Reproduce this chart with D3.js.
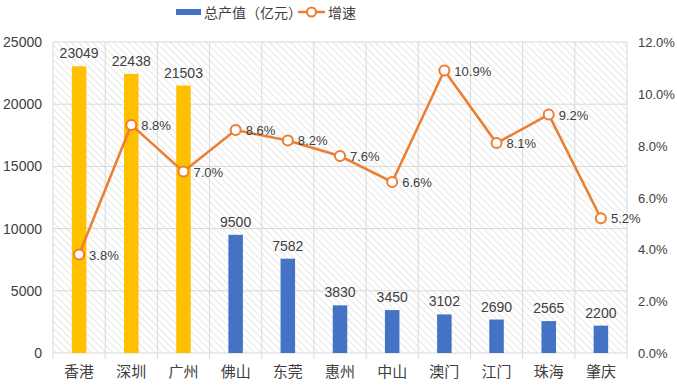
<!DOCTYPE html>
<html><head><meta charset="utf-8">
<script src="https://cdn.jsdelivr.net/npm/d3@7"></script>
<style>body{margin:0;background:#fff;}text{font-family:"Liberation Sans","Noto Sans CJK SC",sans-serif;}</style>
</head><body><svg id="c" width="677" height="386"></svg>
<script>
const categories = ["香港","深圳","广州","佛山","东莞","惠州","中山","澳门","江门","珠海","肇庆"];
const gdpValues = [23049,22438,21503,9500,7582,3830,3450,3102,2690,2565,2200];
const growthValues = [3.8,8.8,7.0,8.6,8.2,7.6,6.6,10.9,8.1,9.2,5.2];
const highlight = [true,true,true,false,false,false,false,false,false,false,false];
const leftTicks = [0,5000,10000,15000,20000,25000];
const rightTicks = [0,2,4,6,8,10,12];

const svg = d3.select("#c");
const m = {l:53, r:627, t:42, b:353};
const defs = svg.append("defs");
const pat = defs.append("pattern").attr("id","hatch").attr("patternUnits","userSpaceOnUse")
  .attr("width",5).attr("height",5).attr("patternTransform","rotate(-45)");
pat.append("rect").attr("width",5).attr("height",5).attr("fill","#fff");
pat.append("line").attr("x1",0).attr("y1",0).attr("x2",0).attr("y2",5).attr("stroke","#d8d8d8").attr("stroke-width",1.2);

const x = d3.scaleBand().domain(categories).range([m.l,m.r]);
const y = d3.scaleLinear().domain([0,25000]).range([m.b,m.t]);
const y2 = d3.scaleLinear().domain([0,12]).range([m.b,m.t]);

svg.append("rect").attr("x",m.l).attr("y",m.t).attr("width",m.r-m.l).attr("height",m.b-m.t).attr("fill","url(#hatch)");
// grid
svg.append("g").selectAll("line").data(leftTicks).join("line")
  .attr("x1",m.l).attr("x2",m.r).attr("y1",d=>y(d)).attr("y2",d=>y(d)).attr("stroke","#d9d9d9").attr("stroke-width",1);
const bounds = categories.map(c=>x(c)).concat([m.r]);
svg.append("g").selectAll("line").data(bounds).join("line")
  .attr("x1",d=>d).attr("x2",d=>d).attr("y1",m.t).attr("y2",m.b+6).attr("stroke","#d9d9d9").attr("stroke-width",1);

// bars
const bw = 14.5;
svg.append("g").selectAll("rect").data(categories).join("rect")
  .attr("x",(d)=>x(d)+x.bandwidth()/2-bw/2).attr("width",bw)
  .attr("y",(d,i)=>y(gdpValues[i])).attr("height",(d,i)=>y(0)-y(gdpValues[i]))
  .attr("fill",(d,i)=>highlight[i]?"#FFC000":"#4472C4");
svg.append("g").selectAll("text").data(categories).join("text")
  .attr("x",d=>x(d)+x.bandwidth()/2).attr("y",(d,i)=>y(gdpValues[i])-8)
  .attr("text-anchor","middle").attr("font-size",14).attr("fill","#404040")
  .text((d,i)=>gdpValues[i]);

// line
const cx = d=>x(d)+x.bandwidth()/2;
svg.append("path").datum(categories).attr("fill","none").attr("stroke","#ED7D31").attr("stroke-width",2.5)
  .attr("d",d3.line().x(d=>cx(d)).y((d,i)=>y2(growthValues[i])));
svg.append("g").selectAll("circle").data(categories).join("circle")
  .attr("cx",cx).attr("cy",(d,i)=>y2(growthValues[i])).attr("r",5)
  .attr("fill","#fff").attr("stroke","#ED7D31").attr("stroke-width",2);
svg.append("g").selectAll("text").data(categories).join("text")
  .attr("x",d=>cx(d)+10).attr("y",(d,i)=>y2(growthValues[i])+5)
  .attr("font-size",13).attr("fill","#404040")
  .text((d,i)=>growthValues[i].toFixed(1)+"%");

// axes
svg.append("g").selectAll("text").data(leftTicks).join("text")
  .attr("x",42).attr("y",d=>y(d)+5).attr("text-anchor","end").attr("font-size",14).attr("fill","#404040").text(d=>d);
svg.append("g").selectAll("text").data(rightTicks).join("text")
  .attr("x",638).attr("y",d=>y2(d)+5).attr("text-anchor","start").attr("font-size",13).attr("fill","#404040").text(d=>d.toFixed(1)+"%");
svg.append("g").selectAll("text").data(categories).join("text")
  .attr("x",d=>cx(d)).attr("y",377).attr("text-anchor","middle").attr("font-size",15).attr("fill","#404040").text(d=>d);

// legend
svg.append("rect").attr("x",176).attr("y",9).attr("width",25).attr("height",6).attr("fill","#4472C4");
svg.append("text").attr("x",204).attr("y",18).attr("font-size",14).attr("fill","#404040").text("总产值（亿元）");
svg.append("line").attr("x1",298).attr("x2",325).attr("y1",12).attr("y2",12).attr("stroke","#ED7D31").attr("stroke-width",2.5);
svg.append("circle").attr("cx",311.5).attr("cy",12).attr("r",4.5).attr("fill","#fff").attr("stroke","#ED7D31").attr("stroke-width",2);
svg.append("text").attr("x",328).attr("y",18).attr("font-size",14).attr("fill","#404040").text("增速");
</script></body></html>
